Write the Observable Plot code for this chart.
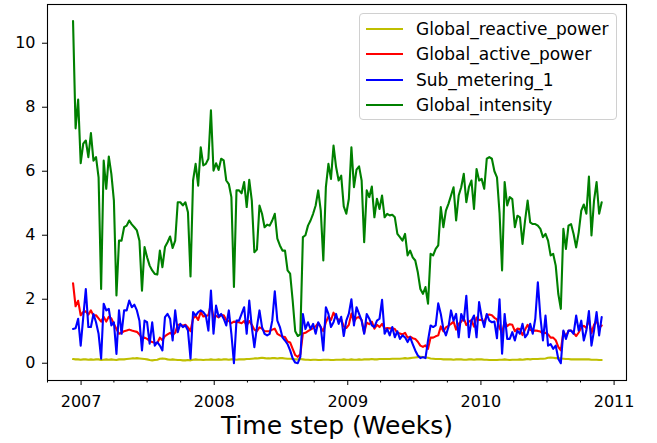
<!DOCTYPE html>
<html>
<head>
<meta charset="utf-8">
<script src="https://cdn.jsdelivr.net/npm/d3@7"></script>
<script src="https://cdn.jsdelivr.net/npm/@observablehq/plot@0.6"></script>
<style>
  body { margin: 0; background: #fff; }
  #wrap { position: relative; width: 657px; height: 443px; font-family: "DejaVu Sans", sans-serif; }
  #legend { position: absolute; left: 359px; top: 13px; width: 258px; height: 107px;
    border: 1px solid #d0d0d0; border-radius: 4px; background: rgba(255,255,255,0.85); box-sizing: border-box; }
  .row { position: absolute; left: 0; height: 20px; display: flex; align-items: center; }
  .row svg { margin-left: 6px; margin-right: 13px; }
  .row span { font-size: 17px; color: #000; white-space: nowrap; }
</style>
</head>
<body>
<div id="wrap"><div id="chart"></div><div id="legend"></div></div>
<script>
const seriesNames = ["Global_reactive_power", "Global_active_power", "Sub_metering_1", "Global_intensity"];
const seriesColors = ["#bfbf00", "#ff0000", "#0000ff", "#008000"];
const startWeek = "2006-12-10";
const yTicks = [0, 2, 4, 6, 8, 10];
const yearTicks = [2007, 2008, 2009, 2010, 2011];
const xLabel = "Time step (Weeks)";

const globalReactivePower = [
0.13,0.12,0.12,0.11,0.12,0.12,0.11,0.12,0.11,0.12,
0.12,0.10,0.11,0.12,0.11,0.12,0.11,0.10,0.12,0.12,
0.12,0.13,0.14,0.15,0.15,0.16,0.15,0.14,0.13,0.12,
0.10,0.09,0.10,0.11,0.14,0.15,0.14,0.12,0.11,0.12,
0.11,0.10,0.10,0.09,0.09,0.10,0.09,0.11,0.12,0.11,
0.11,0.10,0.11,0.11,0.12,0.11,0.11,0.12,0.11,0.12,
0.12,0.11,0.12,0.12,0.11,0.12,0.12,0.12,0.13,0.13,
0.14,0.15,0.15,0.16,0.17,0.16,0.15,0.15,0.16,0.16,
0.15,0.16,0.16,0.15,0.14,0.14,0.13,0.12,0.12,0.13,
0.12,0.11,0.11,0.10,0.11,0.11,0.10,0.10,0.11,0.11,
0.11,0.10,0.10,0.11,0.11,0.11,0.12,0.11,0.11,0.12,
0.11,0.11,0.12,0.11,0.12,0.12,0.12,0.13,0.12,0.12,
0.13,0.13,0.13,0.13,0.13,0.14,0.14,0.14,0.14,0.15,
0.16,0.15,0.16,0.17,0.18,0.19,0.20,0.19,0.18,0.17,
0.15,0.14,0.13,0.13,0.13,0.12,0.12,0.12,0.12,0.11,
0.12,0.12,0.12,0.11,0.11,0.12,0.12,0.11,0.12,0.12,
0.12,0.11,0.11,0.10,0.10,0.10,0.10,0.11,0.11,0.12,
0.11,0.10,0.11,0.11,0.11,0.12,0.11,0.12,0.13,0.12,
0.13,0.13,0.13,0.14,0.14,0.15,0.17,0.18,0.17,0.16,
0.16,0.15,0.14,0.13,0.13,0.12,0.12,0.12,0.12,0.12,
0.12,0.12,0.12,0.11,0.11,0.11,0.10,0.10];

const globalActivePower = [
2.50,1.78,1.95,1.50,1.60,1.62,1.52,1.65,1.49,1.50,
1.40,1.30,1.45,1.30,1.45,1.40,1.23,1.07,0.92,0.95,
1.00,1.02,1.05,1.02,1.00,0.98,0.90,0.78,0.80,0.76,
0.70,0.66,0.64,0.63,0.80,0.72,0.85,0.90,0.95,0.88,
0.95,1.20,1.20,1.17,1.20,1.12,1.00,1.40,1.48,1.35,
1.60,1.46,1.48,1.50,1.86,1.42,1.48,1.43,1.50,1.50,
1.35,1.32,1.25,1.30,1.28,1.28,1.25,1.32,1.18,1.32,
1.20,1.05,1.00,1.12,1.08,1.00,1.00,1.00,1.05,1.08,
0.92,0.87,0.83,0.82,0.68,0.65,0.45,0.25,0.20,0.28,
0.93,0.95,1.00,1.05,1.10,1.15,1.25,1.12,1.00,1.28,
1.45,1.35,1.58,1.43,1.35,1.37,1.15,1.10,1.20,1.55,
1.30,1.42,1.44,1.35,0.95,1.27,1.22,1.30,1.08,1.20,
1.13,1.23,1.08,1.10,1.09,1.09,1.07,0.95,0.93,0.90,
0.95,0.80,0.83,0.78,0.76,0.67,0.55,0.51,0.56,0.45,
0.80,0.80,0.84,0.87,1.15,1.00,1.12,1.17,1.23,1.30,
1.05,1.23,1.30,1.40,1.19,1.30,1.35,1.14,1.43,1.35,
1.36,1.28,1.50,1.52,1.50,1.42,1.37,1.10,0.95,1.30,
1.16,1.22,1.20,1.00,1.08,1.07,0.88,1.05,1.20,1.04,
1.02,1.02,1.01,0.99,0.93,0.95,0.90,0.80,0.80,0.72,
0.51,0.40,0.99,0.84,1.01,1.02,0.95,0.85,0.96,1.12,
1.17,1.10,1.37,0.94,1.20,1.33,1.10,1.18];

const subMetering1 = [
1.07,1.09,1.39,0.55,1.44,2.32,1.13,1.13,1.54,1.28,
0.92,0.14,1.86,1.65,1.70,1.18,1.28,0.29,1.65,0.92,
1.65,1.65,1.96,1.75,1.83,1.65,1.33,0.40,1.33,1.28,
0.61,1.28,0.55,0.66,0.55,0.40,1.44,1.54,1.39,0.71,
1.65,0.97,1.23,1.13,1.18,1.02,0.14,1.60,1.49,1.60,
1.65,1.60,1.49,1.02,2.27,0.92,1.80,1.45,1.54,1.39,
1.18,1.65,0.92,0.00,1.33,1.33,1.54,1.75,0.92,1.96,
1.13,0.50,1.13,1.65,1.13,0.92,0.87,0.92,1.33,2.25,
1.33,1.13,0.81,0.71,0.60,0.40,0.15,0.02,0.00,0.20,
1.54,1.07,1.28,1.07,1.23,0.92,1.28,1.13,0.40,1.75,
1.54,1.13,1.28,1.54,1.23,1.45,0.85,1.33,1.55,2.00,
1.18,1.75,1.54,1.33,0.92,1.54,1.39,1.18,1.13,1.33,
1.39,1.98,0.92,1.07,0.87,1.13,0.81,1.00,0.76,0.87,
0.81,0.66,0.81,0.60,0.40,0.24,0.16,0.19,0.16,0.71,
1.18,1.13,1.18,1.87,1.54,1.07,0.87,1.13,1.65,1.33,
1.54,0.81,1.54,1.33,2.11,0.81,1.33,1.49,0.81,1.91,
1.44,1.13,1.54,1.33,1.28,1.30,0.78,2.00,0.30,1.54,
0.76,0.76,0.97,0.71,1.02,0.92,1.23,0.81,0.92,1.23,
0.92,1.39,2.53,1.44,0.71,1.49,0.55,0.60,0.45,0.55,
0.14,0.00,1.02,0.76,1.02,1.02,0.92,1.49,1.02,1.33,
0.71,1.02,1.63,0.55,1.02,1.60,0.87,1.44];

const globalIntensity = [
10.69,7.34,8.24,6.25,6.86,6.96,6.44,7.19,6.33,6.44,
5.81,2.32,6.33,5.45,6.46,5.92,5.08,2.12,3.83,3.83,
4.25,4.30,4.46,4.34,4.25,4.15,3.83,2.27,3.63,3.31,
3.05,2.90,2.79,2.77,3.52,3.00,3.63,3.78,3.96,3.60,
3.83,5.03,5.03,4.93,5.03,4.72,2.71,5.71,6.23,5.55,
6.75,6.18,6.23,6.39,7.90,6.02,6.25,6.04,6.39,6.34,
5.71,5.60,5.19,2.38,5.40,5.40,5.31,5.66,4.88,5.73,
5.08,3.47,3.55,4.93,4.67,4.25,4.33,4.30,4.46,4.67,
3.89,3.68,3.52,3.52,2.90,2.80,1.96,1.00,0.85,0.90,
3.94,4.00,4.30,4.46,4.67,4.93,5.40,4.77,3.21,5.50,
6.23,5.76,6.80,6.13,5.71,5.86,4.90,4.67,5.14,6.75,
5.50,6.05,6.15,5.71,3.78,5.40,5.19,5.52,4.56,5.14,
4.82,5.24,4.56,4.67,4.62,4.64,4.56,4.04,3.94,3.83,
4.04,3.37,3.52,3.31,3.21,2.84,2.32,2.17,2.38,1.86,
3.42,3.37,3.57,3.68,4.88,4.25,4.77,4.98,5.24,5.50,
4.46,5.24,5.50,5.92,5.03,5.50,5.71,4.82,6.07,5.71,
5.76,5.45,6.39,6.44,6.39,6.00,5.81,4.70,2.90,5.66,
4.93,5.19,5.13,4.25,4.61,4.56,3.73,4.46,5.08,4.40,
4.35,4.35,4.30,4.20,3.94,4.04,3.83,3.37,3.42,3.05,
2.17,1.70,4.20,3.57,4.30,4.35,4.04,3.62,4.09,4.77,
4.96,4.67,5.83,3.99,5.08,5.66,4.67,5.03];

const allSeries = [globalReactivePower, globalActivePower, subMetering1, globalIntensity];
const start = new Date(startWeek + "T00:00:00Z");
const rows = [];
allSeries.forEach((vals, s) => vals.forEach((v, i) => rows.push({
  date: d3.utcDay.offset(start, 7 * i), value: v, series: seriesNames[s]
})));

const yearDates = yearTicks.map(y => new Date(Date.UTC(y, 0, 1)));
const quarterDates = d3.utcMonth.every(3).range(new Date(Date.UTC(2006, 9, 1)), new Date(Date.UTC(2011, 1, 4)))
  .filter(d => d.getUTCMonth() !== 0);

const chart = Plot.plot({
  width: 657, height: 443,
  marginLeft: 47, marginRight: 31, marginTop: 4, marginBottom: 63,
  style: { fontFamily: "DejaVu Sans, sans-serif", fontSize: "16px", color: "#000", background: "#fff" },
  x: { type: "utc", domain: [new Date(Date.UTC(2006, 9, 1)), new Date(Date.UTC(2011, 1, 4))] },
  y: { domain: [-0.54, 11.21] },
  color: { domain: seriesNames, range: seriesColors },
  marks: [
    Plot.lineY(rows, { x: "date", y: "value", z: "series", stroke: "series", strokeWidth: 2.1 }),
    Plot.frame({ stroke: "#000", strokeWidth: 1.1 }),
    Plot.axisY({ ticks: yTicks, tickSize: 5, tickPadding: 7, label: null, tickFormat: d => String(d), fontSize: "16px" }),
    Plot.axisX({ ticks: quarterDates, tickSize: 2.5, text: null, label: null }),
    Plot.axisX({ ticks: yearDates, tickSize: 5, tickPadding: 10, tickFormat: d3.utcFormat("%Y"), label: null, fontSize: "16px" }),
    Plot.text([xLabel], { text: d => d, frameAnchor: "bottom", dy: 45, fontSize: 25, lineAnchor: "middle" })
  ]
});
document.getElementById("chart").appendChild(chart);

const legend = document.getElementById("legend");
const rowTops = [4.7, 30.3, 56, 81.3];
seriesNames.forEach((name, k) => {
  const r = document.createElement("div");
  r.className = "row";
  r.style.top = rowTops[k] + "px";
  r.innerHTML = `<svg width="37" height="20"><line x1="0" x2="37" y1="10" y2="10" stroke="${seriesColors[k]}" stroke-width="2.1"/></svg><span>${name}</span>`;
  legend.appendChild(r);
});
</script>
</body>
</html>
